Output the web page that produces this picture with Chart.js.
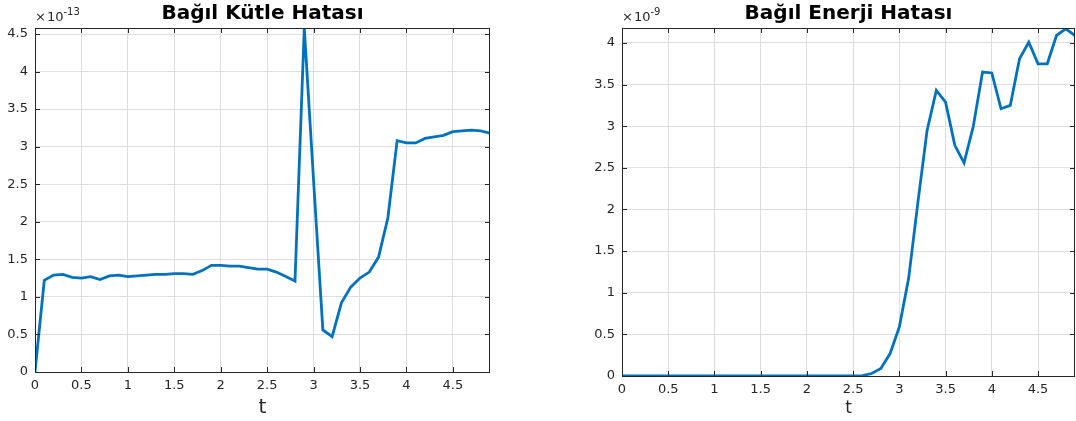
<!DOCTYPE html>
<html lang="tr">

<head>
    <meta charset="UTF-8">
    <title>Bağıl Hata</title>
    <script src="https://cdn.jsdelivr.net/npm/chart.js"></script>
    <style>
        body { margin: 0; background: #fff; }
        .box { position: absolute; top: 0; height: 421px; }
    </style>
</head>

<body>
    <div class="box" style="left:0; width:540px;"><canvas id="kutle"></canvas></div>
    <div class="box" style="left:560px; width:516px;"><canvas id="enerji"></canvas></div>

    <script>
        // zaman ekseni (t)
        var tVals = [0, 0.1, 0.2, 0.3, 0.4, 0.5, 0.6, 0.7, 0.8, 0.9,
            1, 1.1, 1.2, 1.3, 1.4, 1.5, 1.6, 1.7, 1.8, 1.9,
            2, 2.1, 2.2, 2.3, 2.4, 2.5, 2.6, 2.7, 2.8, 2.9,
            3, 3.1, 3.2, 3.3, 3.4, 3.5, 3.6, 3.7, 3.8, 3.9,
            4, 4.1, 4.2, 4.3, 4.4, 4.5, 4.6, 4.7, 4.8, 4.9];

        // kütle hatası (x 1e-13)
        var kutleHata = [0, 1.22, 1.29, 1.30, 1.26, 1.25, 1.27, 1.23, 1.28, 1.29,
            1.27, 1.28, 1.29, 1.30, 1.30, 1.31, 1.31, 1.30, 1.35, 1.42,
            1.42, 1.41, 1.41, 1.39, 1.37, 1.37, 1.33, 1.27, 1.21, 4.58,
            2.55, 0.56, 0.47, 0.92, 1.13, 1.25, 1.33, 1.53, 2.05, 3.08,
            3.05, 3.05, 3.11, 3.13, 3.15, 3.20, 3.21, 3.22, 3.21, 3.18];

        // enerji hatası (x 1e-9)
        var enerjiHata = [0, 0, 0, 0, 0, 0, 0, 0, 0, 0,
            0, 0, 0, 0, 0, 0, 0, 0, 0, 0,
            0, 0, 0, 0, 0, 0, 0.005, 0.03, 0.09, 0.27,
            0.59, 1.17, 2.08, 2.95, 3.43, 3.29, 2.77, 2.56, 3.00, 3.65,
            3.64, 3.21, 3.25, 3.81, 4.01, 3.75, 3.75, 4.09, 4.17, 4.09];

        var xTicks = [0, 0.5, 1, 1.5, 2, 2.5, 3, 3.5, 4, 4.5];
        var yTicksKutle = [0, 0.5, 1, 1.5, 2, 2.5, 3, 3.5, 4, 4.5];
        var yTicksEnerji = [0, 0.5, 1, 1.5, 2, 2.5, 3, 3.5, 4];

        var FONT = "'DejaVu Sans', sans-serif";
        var AXC = '#262626';

        // MATLAB gibi: çerçeve, içe dönük tikler, başlık ve üs yazısı
        var matlabPlugin = {
            id: 'matlab',
            afterDraw: function (chart, args, opt) {
                var c = chart.ctx, a = chart.chartArea;
                var xs = chart.scales.x, ys = chart.scales.y;
                c.save();
                c.strokeStyle = AXC;
                c.lineWidth = 1;
                c.beginPath();
                xs.ticks.forEach(function (t) {
                    var px = Math.round(xs.getPixelForValue(t.value)) + 0.5;
                    c.moveTo(px, a.bottom); c.lineTo(px, a.bottom - 5);
                    c.moveTo(px, a.top); c.lineTo(px, a.top + 5);
                });
                ys.ticks.forEach(function (t) {
                    var py = Math.round(ys.getPixelForValue(t.value)) + 0.5;
                    c.moveTo(a.left, py); c.lineTo(a.left + 5, py);
                    c.moveTo(a.right, py); c.lineTo(a.right - 5, py);
                });
                c.stroke();
                c.strokeRect(Math.round(a.left) + 0.5, Math.round(a.top) + 0.5,
                    Math.round(a.right - a.left) - 1, Math.round(a.bottom - a.top));

                // başlık
                c.fillStyle = '#000';
                c.font = 'bold 20px ' + FONT;
                c.textAlign = 'center';
                c.textBaseline = 'alphabetic';
                c.fillText(opt.title, (a.left + a.right) / 2, 18.5);

                // üs
                c.fillStyle = AXC;
                c.textAlign = 'left';
                c.textBaseline = 'alphabetic';
                c.font = '13px ' + FONT;
                c.fillText('\u00d7', a.left, 21);
                var w = c.measureText('\u00d7').width;
                c.fillText('10', a.left + w + 1, 21);
                var w2 = c.measureText('10').width;
                c.font = '10px ' + FONT;
                c.fillText('-' + opt.exp, a.left + w + w2 + 1, 15);

                // x ekseni etiketi
                c.font = opt.tSize + 'px ' + FONT;
                c.textAlign = 'center';
                c.textBaseline = 'middle';
                c.fillText('t', (a.left + a.right) / 2, opt.tY);
                c.restore();
            }
        };

        function makeChart(id, yData, yMax, yTicks, yWidth, pad, title, exp, tSize, tY, xH) {
            var pts = tVals.map(function (t, i) { return { x: t, y: yData[i] }; });
            return new Chart(document.getElementById(id), {
                type: 'line',
                data: {
                    datasets: [{
                        data: pts,
                        borderColor: '#0072BD',
                        borderWidth: 2.8,
                        pointRadius: 0,
                        tension: 0,
                        fill: false
                    }]
                },
                options: {
                    responsive: true,
                    maintainAspectRatio: false,
                    animation: false,
                    layout: { padding: pad },
                    plugins: {
                        legend: { display: false },
                        tooltip: { enabled: false },
                        matlab: { title: title, exp: exp, tSize: tSize, tY: tY }
                    },
                    scales: {
                        x: {
                            type: 'linear',
                            min: 0,
                            max: 4.9,
                            afterBuildTicks: function (s) { s.ticks = xTicks.map(function (v) { return { value: v }; }); },
                            afterFit: function (s) { s.height = xH; },
                            grid: { color: '#dedede', drawTicks: false },
                            border: { display: false },
                            ticks: {
                                padding: 6,
                                maxRotation: 0,
                                autoSkip: false,
                                color: AXC,
                                font: { family: FONT, size: 13 },
                                callback: function (v) { return String(v); }
                            }
                        },
                        y: {
                            type: 'linear',
                            min: 0,
                            max: yMax,
                            afterBuildTicks: function (s) { s.ticks = yTicks.map(function (v) { return { value: v }; }); },
                            afterFit: function (s) { s.width = yWidth; },
                            grid: { color: '#dedede', drawTicks: false },
                            border: { display: false },
                            ticks: {
                                padding: 7,
                                autoSkip: false,
                                color: AXC,
                                font: { family: FONT, size: 13 },
                                callback: function (v) { return String(v); }
                            }
                        }
                    }
                },
                plugins: [matlabPlugin]
            });
        }

        makeChart('kutle', kutleHata, 4.58, yTicksKutle, 35,
            { left: 0, top: 28, right: 50, bottom: 0 },
            'Bağıl Kütle Hatası', '13', 20, 408, 49);

        makeChart('enerji', enerjiHata, 4.18, yTicksEnerji, 62,
            { left: 0, top: 28, right: 1, bottom: 0 },
            'Bağıl Enerji Hatası', '9', 17, 409, 45);
    </script>
</body>

</html>
